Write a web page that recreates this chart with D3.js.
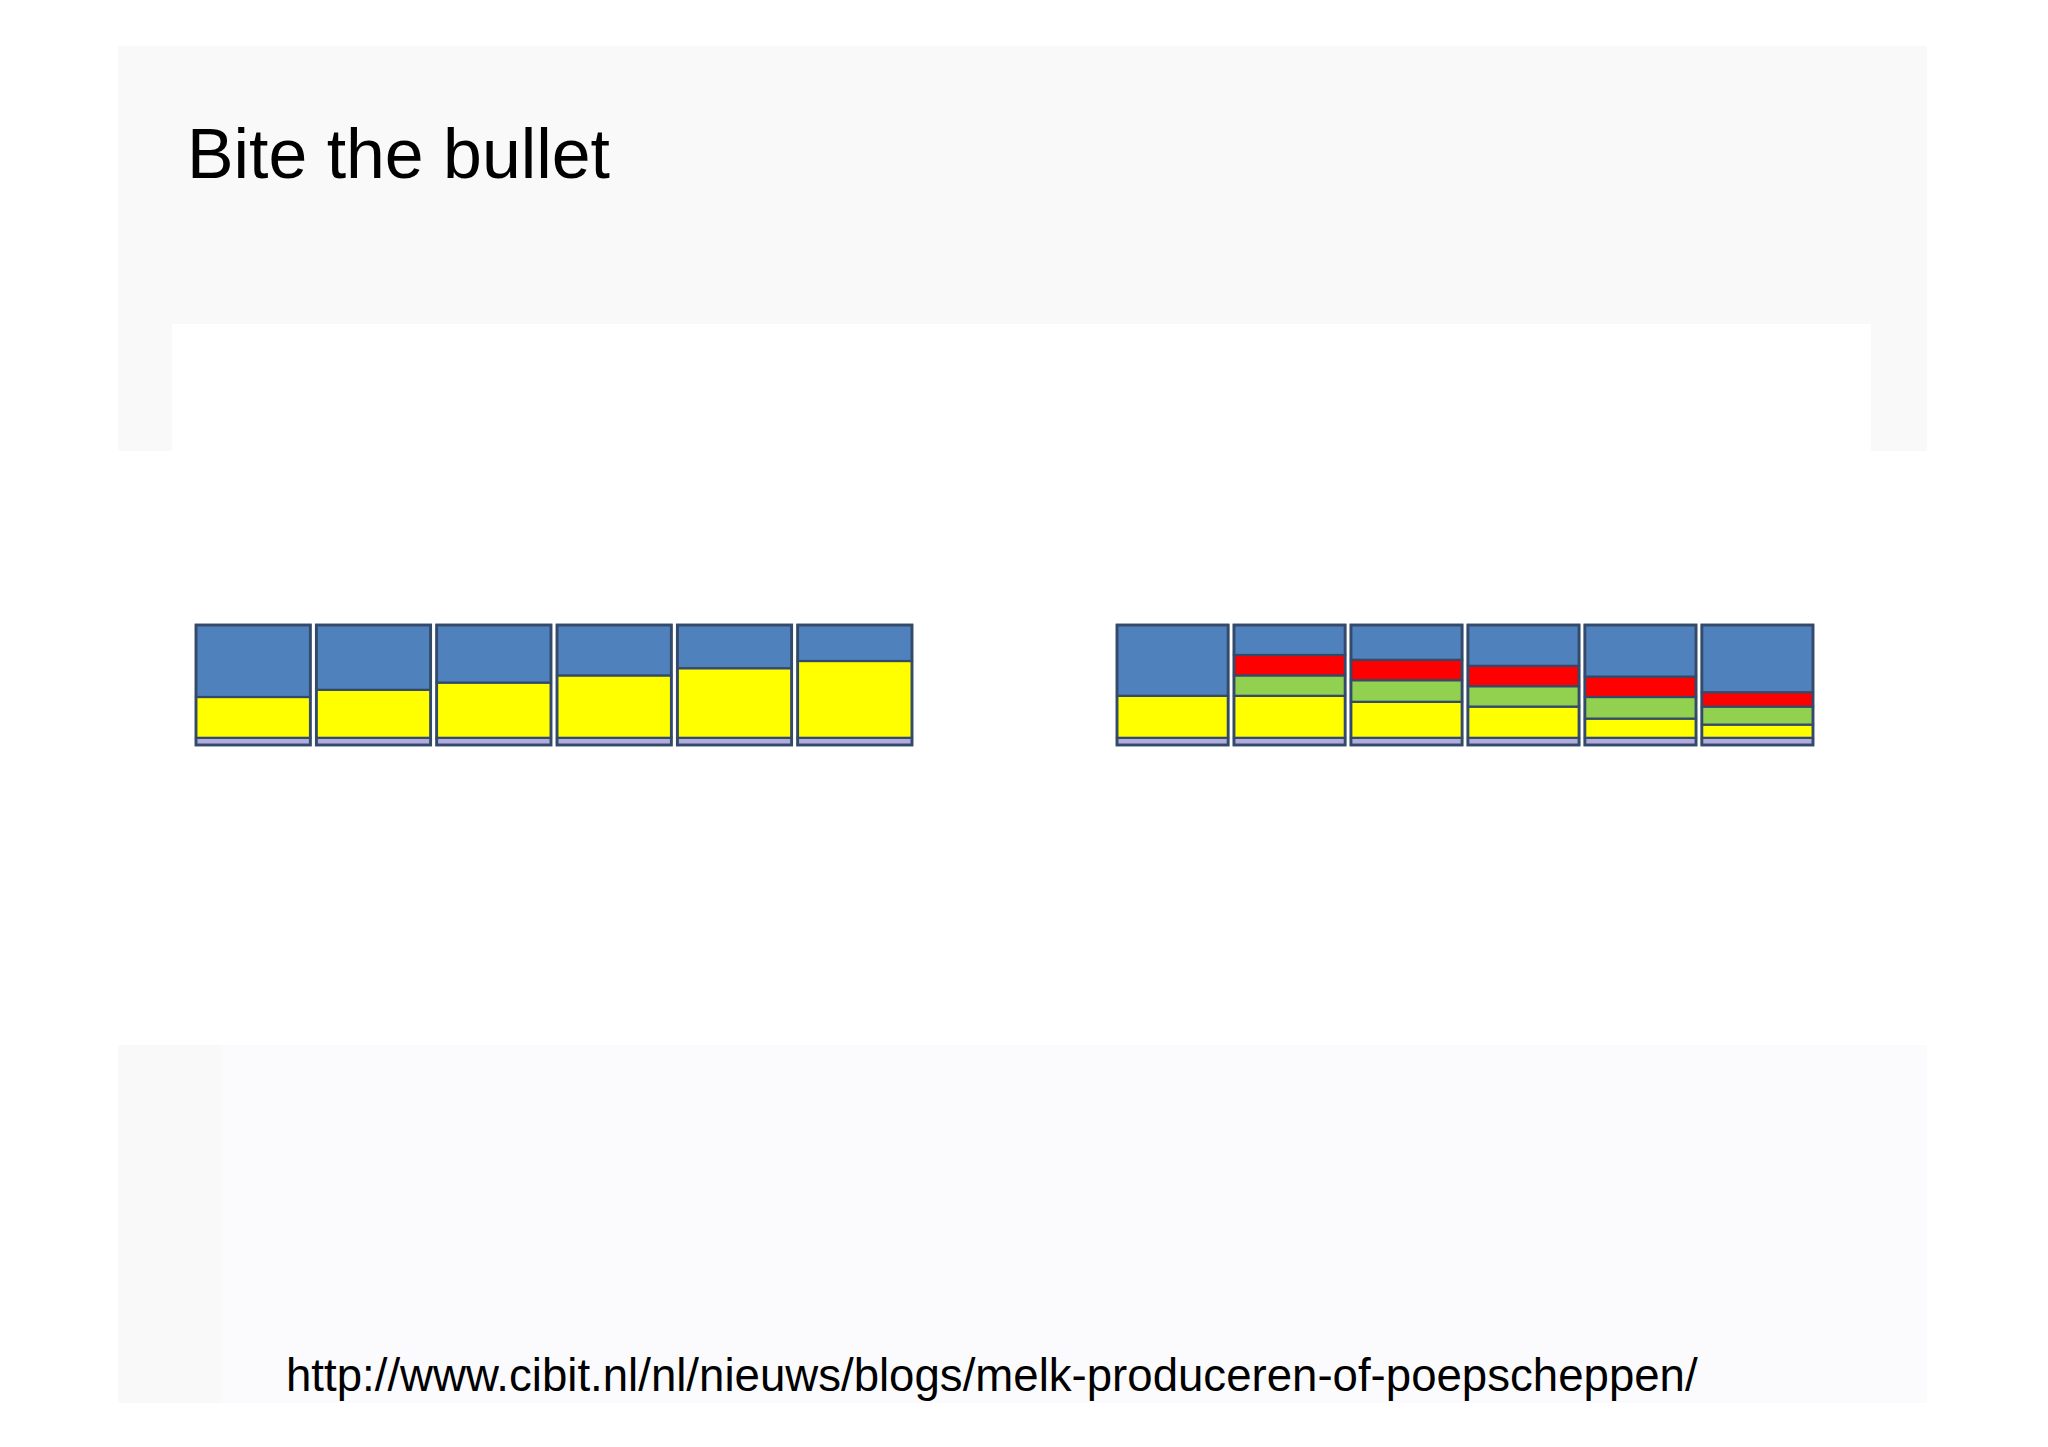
<!DOCTYPE html>
<html lang="en">
<head>
    <meta charset="UTF-8">
    <title>Bite the bullet</title>
    <style>
        body { margin: 0; background: #fff; }
        text { font-family: "Liberation Sans", Arial, sans-serif; }
    </style>
</head>
<body>
    <div id="chart-wrapper"></div>

    <script src="https://d3js.org/d3.v7.min.js"></script>
    <script>
        // stacked shares (percent of each bar), bottom to top
        const leftBars = ['1', '2', '3', '4', '5', '6']
        const leftBase = [6, 6, 6, 6, 6, 6]
        const leftYellow = [34, 40, 46, 52, 58, 64]
        const leftBlue = [60, 54, 48, 42, 36, 30]

        const rightBars = ['1', '2', '3', '4', '5', '6']
        const rightBase = [6, 6, 6, 6, 6, 6]
        const rightYellow = [35, 35, 30, 26, 16, 11]
        const rightGreen = [0, 17, 18, 17, 18, 15]
        const rightRed = [0, 17, 17, 17, 17, 12]
        const rightBlue = [59, 25, 29, 34, 43, 56]

        const title = 'Bite the bullet'
        const source = 'http://www.cibit.nl/nl/nieuws/blogs/melk-produceren-of-poepscheppen/'

        const colors = {
            base: '#b3abdd',
            yellow: '#ffff00',
            green: '#92d050',
            red: '#ff0000',
            blue: '#4f81bd'
        }
        const outline = '#334a6b'

        const width = 2048
        const height = 1447

        const svg = d3.select('#chart-wrapper')
            .append('svg')
            .attr('width', width)
            .attr('height', height)

        // slide background
        svg.append('rect').attr('x', 118).attr('y', 46).attr('width', 1809).attr('height', 1357).attr('fill', '#f9f9f9')
        svg.append('rect').attr('x', 118).attr('y', 451).attr('width', 1809).attr('height', 594).attr('fill', '#ffffff')
        svg.append('rect').attr('x', 172).attr('y', 324).attr('width', 1699).attr('height', 127).attr('fill', '#ffffff')
        svg.append('rect').attr('x', 222).attr('y', 1045).attr('width', 1705).attr('height', 358).attr('fill', '#fbfbfd')

        const y = d3.scaleLinear()
            .domain([0, 100])
            .range([745, 625])

        function drawGroup(cats, series, x0, x1) {
            const x = d3.scaleBand()
                .domain(cats)
                .range([x0, x1])
                .paddingInner(0.05)

            const rows = cats.map((c, i) => {
                const r = { cat: c }
                series.forEach(s => { r[s.key] = s.values[i] })
                return r
            })
            const stack = d3.stack().keys(series.map(s => s.key))(rows)

            const g = svg.append('g')
            g.selectAll('g.layer')
                .data(stack)
                .join('g')
                .attr('class', 'layer')
                .attr('fill', d => colors[d.key])
                .selectAll('rect')
                .data(d => d.filter(p => p[1] > p[0]))
                .join('rect')
                .attr('x', d => x(d.data.cat))
                .attr('y', d => y(d[1]))
                .attr('width', x.bandwidth())
                .attr('height', d => y(d[0]) - y(d[1]))
                .attr('stroke', outline)
                .attr('stroke-width', 2.2)

            // outer frame of each bar
            g.selectAll('rect.frame')
                .data(cats)
                .join('rect')
                .attr('class', 'frame')
                .attr('x', d => x(d))
                .attr('y', y(100))
                .attr('width', x.bandwidth())
                .attr('height', y(0) - y(100))
                .attr('fill', 'none')
                .attr('stroke', outline)
                .attr('stroke-width', 2.8)
        }

        drawGroup(leftBars, [
            { key: 'base', values: leftBase },
            { key: 'yellow', values: leftYellow },
            { key: 'blue', values: leftBlue }
        ], 196, 912)

        drawGroup(rightBars, [
            { key: 'base', values: rightBase },
            { key: 'yellow', values: rightYellow },
            { key: 'green', values: rightGreen },
            { key: 'red', values: rightRed },
            { key: 'blue', values: rightBlue }
        ], 1117, 1813)

        // text, sized to the widths seen on the slide
        function fitText(str, x, yPos, targetWidth) {
            const t = svg.append('text')
                .attr('x', x)
                .attr('y', yPos)
                .attr('fill', '#000')
                .style('font-size', '40px')
                .text(str)
            const w = t.node().getComputedTextLength()
            t.style('font-size', (40 * targetWidth / w) + 'px')
        }

        fitText(title, 187, 178, 423)
        fitText(source, 286, 1391, 1412)
    </script>
</body>
</html>
